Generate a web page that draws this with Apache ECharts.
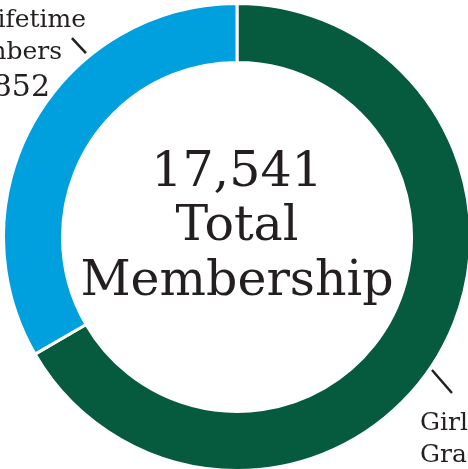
<!DOCTYPE html>
<html>
<head>
<meta charset="utf-8">
<script src="https://cdn.jsdelivr.net/npm/echarts@6/dist/echarts.min.js"></script>
<style>
  html, body { margin: 0; padding: 0; background: #fff; }
  #main { width: 468px; height: 469px; }
</style>
</head>
<body>
<div id="main"></div>
<script>
// 会员构成
const categories = ['Girl Grades K-12', 'Lifetime Members']
const values = [11689, 5852]
const colors = ['#065b3e', '#009fde']

const serif = 'DejaVu Serif'
const ink = '#231f20'
const total = values.reduce((a, b) => a + b, 0)
const fmt = v => v.toLocaleString('en-US')

// 标签位置 + 引导线（起点角度从正上方顺时针，尾巴偏移）
const cx = 237
const cy = 237
const guides = [
  { angle: 124.3, r0: 236, tail: [20, 23], x: 420, y: 407, align: 'left' },
  { angle: 320.6, r0: 238, tail: [-14, -15], x: 86, y: 4, align: 'right' }
]

const chart = echarts.init(document.getElementById('main'))

const option = {
  animation: false,
  graphic: [
    {
      type: 'text',
      x: cx,
      y: 146,
      style: {
        text: fmt(total) + '\nTotal\nMembership',
        fill: ink,
        font: '49px "DejaVu Serif"',
        fontFamily: serif,
        fontSize: 49,
        lineHeight: 54.5,
        align: 'center',
        textAlign: 'center',
        verticalAlign: 'top',
        textVerticalAlign: 'top'
      }
    }
  ],
  series: [
    {
      type: 'pie',
      center: [cx, cy],
      radius: [174.5, 233.5],
      startAngle: 90,
      clockwise: true,
      avoidLabelOverlap: false,
      silent: true,
      itemStyle: { borderColor: '#fff', borderWidth: 3 },
      emphasis: { disabled: true },
      label: {
        show: true,
        position: 'outside',
        width: 300,
        overflow: 'none',
        formatter: p => {
          const i = p.dataIndex
          const k = p.name.indexOf(' ')
          const a = p.name.slice(0, k)
          const b = p.name.slice(k + 1)
          return `{n|${a}}\n{m${i}|${b}}\n{v${i}|${fmt(p.value)}}`
        },
        rich: {
          n: { fontFamily: serif, fontSize: 25, lineHeight: 32, color: ink },
          m0: { fontFamily: serif, fontSize: 25, lineHeight: 32, color: ink },
          v0: { fontFamily: serif, fontSize: 30, lineHeight: 40, color: ink },
          m1: { fontFamily: serif, fontSize: 25, lineHeight: 32, color: ink, padding: [0, 24, 0, 0] },
          v1: { fontFamily: serif, fontSize: 30, lineHeight: 40, color: ink, padding: [0, 36, 0, 0] }
        }
      },
      labelLine: {
        show: true,
        length: 20,
        length2: 0,
        lineStyle: { color: ink, width: 2.5 }
      },
      labelLayout: params => {
        const g = guides[params.dataIndex]
        const rad = g.angle * Math.PI / 180
        const p0 = [cx + g.r0 * Math.sin(rad), cy - g.r0 * Math.cos(rad)]
        const p1 = [p0[0] + g.tail[0], p0[1] + g.tail[1]]
        return {
          x: g.x,
          y: g.y,
          align: g.align,
          verticalAlign: 'top',
          labelLinePoints: [p0, p1]
        }
      },
      data: categories.map((name, i) => ({
        name: name,
        value: values[i],
        itemStyle: { color: colors[i] }
      }))
    }
  ]
}

chart.setOption(option)
</script>
</body>
</html>
